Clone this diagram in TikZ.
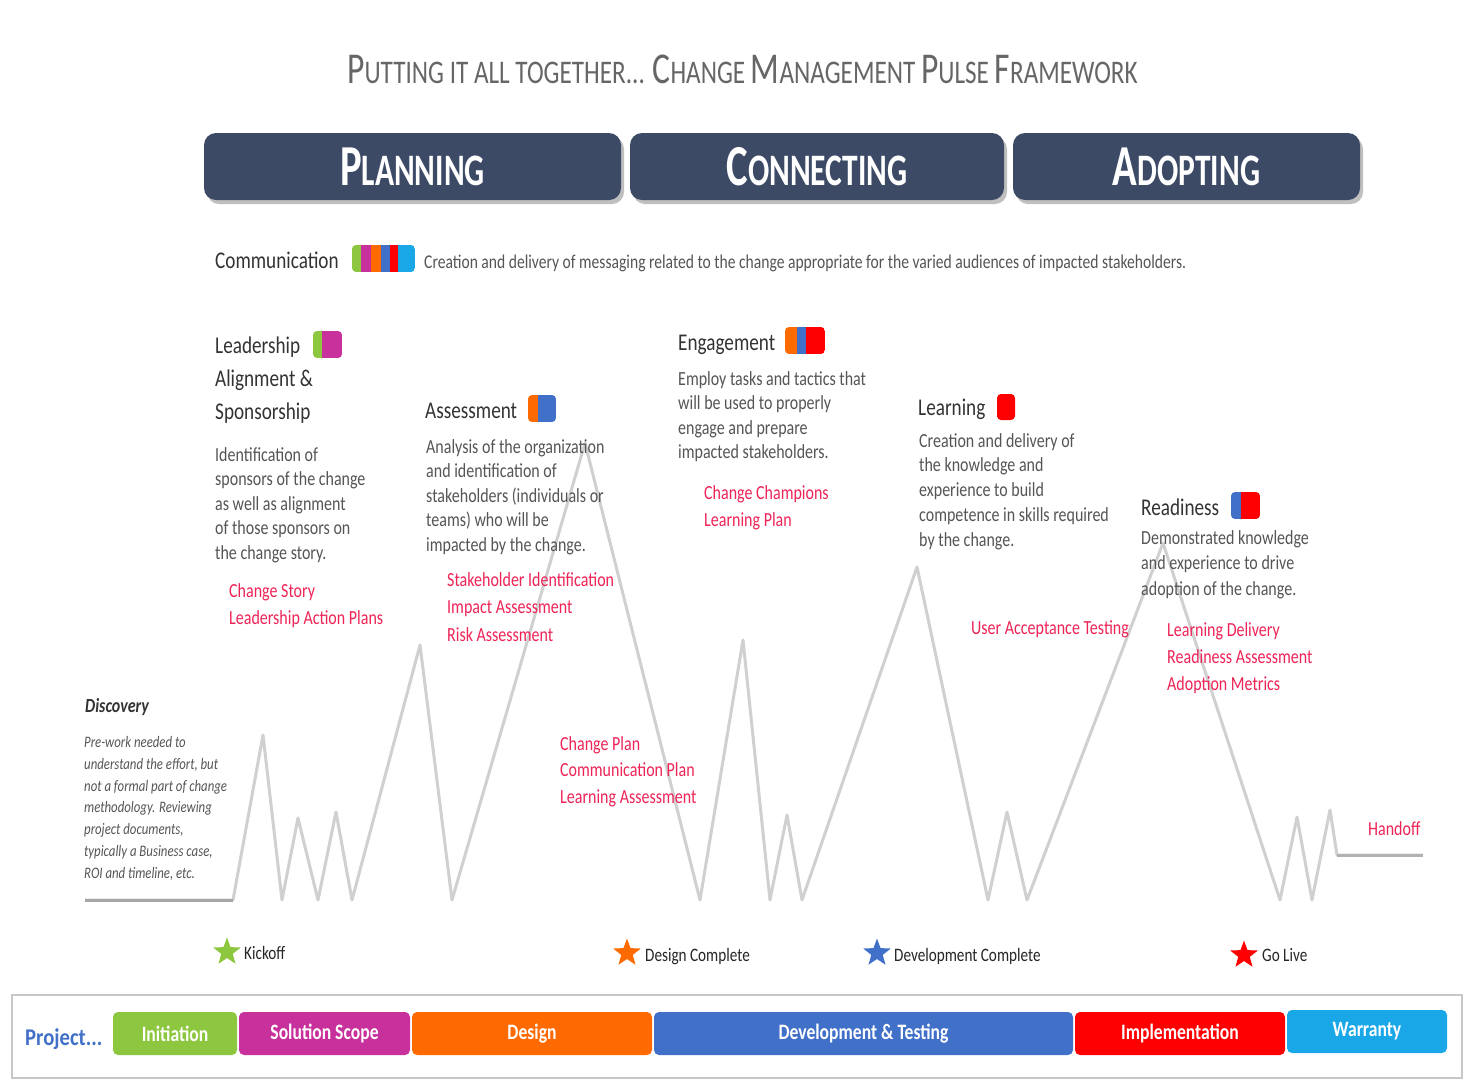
\documentclass[tikz,border=0pt]{standalone}
\usepackage{fontspec}
\setmainfont{Carlito}[FakeStretch=0.8]
\newfontfamily\titlefont{Carlito}[FakeStretch=0.763]
\newfontfamily\phasefont{Carlito}[FakeStretch=0.7]
\newfontfamily\projfont{Carlito}[FakeStretch=0.86]
\usetikzlibrary{shapes.geometric}
\definecolor{cgreen}{HTML}{8DC63F}
\definecolor{cmag}{HTML}{C8309C}
\definecolor{corange}{HTML}{FF6A00}
\definecolor{cblue}{HTML}{4170C8}
\definecolor{cred}{HTML}{FF0000}
\definecolor{ccyan}{HTML}{1AA7E8}
\definecolor{hdr}{HTML}{3C4A66}
\definecolor{rtext}{HTML}{EE2457}
\definecolor{gtext}{HTML}{555555}
\definecolor{htext}{HTML}{333333}
\definecolor{pulsec}{HTML}{D0D0D0}
\newcommand\scword[4]{{\fontsize{#1}{#1}\selectfont #3}{\fontsize{#2}{#2}\selectfont #4}}
\tikzset{
  head/.style={anchor=base west, inner sep=0, text=htext, align=left, font=\fontsize{24}{33}\selectfont},
  desc/.style={anchor=base west, inner sep=0, text=gtext, align=left, font=\fontsize{20}{24.5}\selectfont},
  deliv/.style={anchor=base west, inner sep=0, text=rtext, align=left, font=\fontsize{20}{27}\selectfont},
  phase/.style={fill=hdr, rounded corners=12, minimum height=67, inner sep=0, text=white, font=\phasefont\bfseries},
  pbar/.style={rounded corners=5, minimum height=43, inner sep=0, text=white, font=\fontsize{22}{22}\selectfont\bfseries},
  mstar/.style={star, star points=5, star point ratio=2.4, minimum size=29, inner sep=0},
  mlabel/.style={anchor=base west, inner sep=0, text=black!85, font=\fontsize{19}{19}\selectfont},
}
\begin{document}
\begin{tikzpicture}[x=1pt,y=-1pt]
\useasboundingbox (0,0) rectangle (1468,1080);
\fill[white] (0,0) rectangle (1468,1080);

% title
\node[anchor=base west, inner sep=0, text=black!60, font=\titlefont] (title) at (347,83)
  {\scword{44}{33}{P}{UTTING IT ALL TOGETHER... }\scword{44}{33}{C}{HANGE }\scword{44}{33}{M}{ANAGEMENT }\scword{44}{33}{P}{ULSE }\scword{44}{33}{F}{RAMEWORK}};

% phase headers
\fill[black!25, rounded corners=12] (207,137) rectangle (624,204);
\fill[black!25, rounded corners=12] (633,137) rectangle (1007,204);
\fill[black!25, rounded corners=12] (1016,137) rectangle (1363,204);
\node[phase, minimum width=417] (planning) at (412.5,166.5) {\scword{58}{45}{P}{LANNING}};
\node[phase, minimum width=374] (connecting) at (817,166.5) {\scword{58}{45}{C}{ONNECTING}};
\node[phase, minimum width=347] (adopting) at (1186.5,166.5) {\scword{58}{45}{A}{DOPTING}};

% pulse line
\draw[pulsec, line width=3, line join=round]
  (85,900) -- (233,900) -- (263,735) -- (282,900) -- (298,818) -- (318,900) -- (336,812) -- (352,900)
  -- (420,645) -- (452,900) -- (585,443) -- (700,900) -- (743,640) -- (770,900) -- (787,815) -- (802,900)
  -- (917,567) -- (988,900) -- (1007,812) -- (1027,900) -- (1163,543) -- (1280,900) -- (1297,817)
  -- (1312,900) -- (1330,810) -- (1337,855) -- (1423,855);
\draw[black!35, line width=3] (85,900) -- (233,900);
\draw[black!30, line width=3] (1337,855) -- (1423,855);

% communication
\node[head] (comm) at (215,268) {Communication};
\begin{scope}
\clip[rounded corners=4] (352,245) rectangle (415,272);
\fill[cgreen] (352,245) rectangle (361,272);
\fill[cmag] (361,245) rectangle (371,272);
\fill[corange] (371,245) rectangle (381,272);
\fill[cblue] (381,245) rectangle (390,272);
\fill[cred] (390,245) rectangle (398,272);
\fill[ccyan] (398,245) rectangle (415,272);
\end{scope}
\node[desc, font=\fontsize{19.5}{19.5}\selectfont] (commdesc) at (424,268) {Creation and delivery of messaging related to the change appropriate for the varied audiences of impacted stakeholders.};

% leadership (base = last line)
\node[head] (lead) at (215,419) {Leadership\\Alignment \&\\Sponsorship};
\begin{scope}
\clip[rounded corners=4] (313,331) rectangle (342,358);
\fill[cgreen] (313,331) rectangle (322,358);
\fill[cmag] (322,331) rectangle (342,358);
\end{scope}
\node[desc] (leaddesc) at (215,559) {Identification of\\sponsors of the change\\as well as alignment\\of those sponsors on\\the change story.};
\node[deliv] (leaddel) at (229,624) {Change Story\\Leadership Action Plans};

% assessment
\node[head] (assess) at (425,418) {Assessment};
\begin{scope}
\clip[rounded corners=4] (528,395) rectangle (556,422);
\fill[corange] (528,395) rectangle (538,422);
\fill[cblue] (538,395) rectangle (556,422);
\end{scope}
\node[desc] (assessdesc) at (426,551) {Analysis of the organization\\and identification of\\stakeholders (individuals or\\teams) who will be\\impacted by the change.};
\node[deliv, font=\fontsize{20}{27.5}\selectfont] (assessdel) at (447,641) {Stakeholder Identification\\Impact Assessment\\Risk Assessment};

% engagement
\node[head] (engage) at (678,350) {Engagement};
\begin{scope}
\clip[rounded corners=4] (785,327) rectangle (825,354);
\fill[corange] (785,327) rectangle (797,354);
\fill[cblue] (797,327) rectangle (806,354);
\fill[cred] (806,327) rectangle (825,354);
\end{scope}
\node[desc] (engagedesc) at (678,458.5) {Employ tasks and tactics that\\will be used to properly\\engage and prepare\\impacted stakeholders.};
\node[deliv] (engagedel) at (704,526) {Change Champions\\Learning Plan};

% change plan
\node[deliv, font=\fontsize{20}{26.5}\selectfont] (plandel) at (560,803) {Change Plan\\Communication Plan\\Learning Assessment};

% learning
\node[head] (learn) at (918,415) {Learning};
\fill[cred, rounded corners=4] (997,394) rectangle (1015,420);
\node[desc, font=\fontsize{20}{24.75}\selectfont] (learndesc) at (919,546) {Creation and delivery of\\the knowledge and\\experience to build\\competence in skills required\\by the change.};
\node[deliv] (uat) at (971,634) {User Acceptance Testing};

% readiness
\node[head] (ready) at (1141,515) {Readiness};
\begin{scope}
\clip[rounded corners=4] (1231,492) rectangle (1260,519);
\fill[cblue] (1231,492) rectangle (1241,519);
\fill[cred] (1241,492) rectangle (1260,519);
\end{scope}
\node[desc, font=\fontsize{20}{25.5}\selectfont] (readydesc) at (1141,595) {Demonstrated knowledge\\and experience to drive\\adoption of the change.};
\node[deliv] (readydel) at (1167,690) {Learning Delivery\\Readiness Assessment\\Adoption Metrics};

% discovery
\node[anchor=base west, inner sep=0, text=htext, font=\fontsize{20}{20}\selectfont\bfseries\itshape] (disc) at (85,712) {Discovery};
\node[anchor=base west, inner sep=0, text=gtext, align=left, font=\fontsize{16}{21.7}\selectfont\itshape] (discdesc) at (84,878)
  {Pre-work needed to\\understand the effort, but\\not a formal part of change\\methodology. Reviewing\\project documents,\\typically a Business case,\\ROI and timeline, etc.};

% handoff
\node[deliv] (handoff) at (1368,835) {Handoff};

% milestones
\node[mstar, fill=cgreen] (s1) at (227,952) {};
\node[mlabel] (kick) at (244,959) {Kickoff};
\node[mstar, fill=corange] (s2) at (627,953) {};
\node[mlabel] (dcomp) at (645,961) {Design Complete};
\node[mstar, fill=cblue] (s3) at (877,953) {};
\node[mlabel] (devcomp) at (894,961) {Development Complete};
\node[mstar, fill=cred] (s4) at (1244,955) {};
\node[mlabel] (golive) at (1262,961) {Go Live};

% project bar
\draw[black!22, line width=2.5, fill=white] (12,995) rectangle (1462,1078);
\node[anchor=base west, inner sep=0, text=cblue, font=\projfont\fontsize{24}{24}\selectfont\bfseries] (proj) at (25,1045) {Project...};
\node[pbar, fill=cgreen, minimum width=124] (ini) at (175,1033.5) {Initiation};
\node[pbar, fill=cmag, minimum width=171] (scope) at (324.5,1033.5) {Solution Scope};
\node[pbar, fill=corange, minimum width=240] (design) at (532,1033.5) {Design};
\node[pbar, fill=cblue, minimum width=419] (dev) at (863.5,1033.5) {Development \& Testing};
\node[pbar, fill=cred, minimum width=210] (impl) at (1180,1033.5) {Implementation};
\node[pbar, fill=ccyan, minimum width=160] (warr) at (1367,1031.5) {Warranty};
\end{tikzpicture}
\end{document}
